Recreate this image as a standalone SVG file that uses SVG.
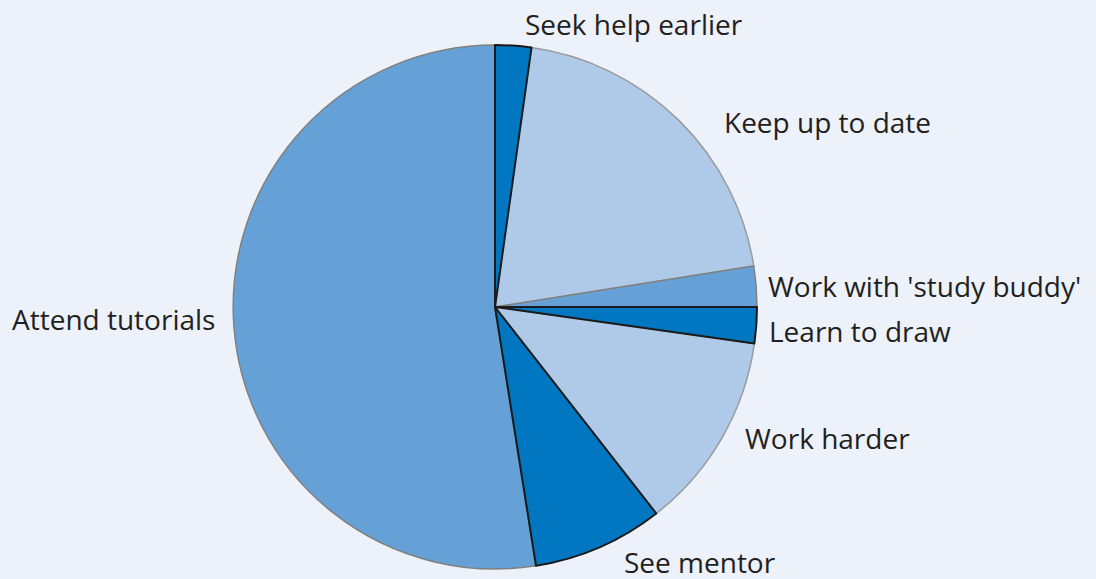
<svg xmlns="http://www.w3.org/2000/svg" width="1096" height="579" viewBox="0 0 1096 579">
<style>
.bg{fill:#edf1fa}
.dark{fill:#0077c0;stroke:#1a1a1a;stroke-width:2;stroke-linejoin:round}
.mid{fill:#65a1d6;stroke:#808080;stroke-width:1.5;stroke-linejoin:round}
.light{fill:#afc9e8;stroke:#9a9a9a;stroke-width:1.5;stroke-linejoin:round}
.lbl{font-family:"Open Sans","Noto Sans",sans-serif;font-size:28px;fill:#231f20}
</style>
<rect class="bg" x="0" y="0" width="1096" height="579"/>
<g id="slices">
<g id="attend"><path class="mid" d="M495,307 L536,565.8 A262,262 0 1 1 495,45 Z"/></g>
<g id="keep"><path class="light" d="M495,307 L531.5,47.6 A262,262 0 0 1 753.8,266 Z"/></g>
<g id="buddy"><path class="mid" d="M495,307 L753.8,266 A262,262 0 0 1 757,307 Z"/></g>
<g id="harder"><path class="light" d="M495,307 L754.4,343.5 A262,262 0 0 1 656.3,513.5 Z"/></g>
<g id="seek"><path class="dark" d="M495,307 L495,45 A262,262 0 0 1 531.5,47.6 Z"/></g>
<g id="draw"><path class="dark" d="M495,307 L757,307 A262,262 0 0 1 754.4,343.5 Z"/></g>
<g id="mentor"><path class="dark" d="M495,307 L656.3,513.5 A262,262 0 0 1 536,565.8 Z"/></g>
</g>
<g id="labels">
<text class="lbl" x="525" y="35">Seek help earlier</text>
<text class="lbl" x="724" y="133">Keep up to date</text>
<text class="lbl" x="768" y="297">Work with 'study buddy'</text>
<text class="lbl" x="769" y="342">Learn to draw</text>
<text class="lbl" x="745" y="449">Work harder</text>
<text class="lbl" x="624" y="573">See mentor</text>
<text class="lbl" x="12" y="330">Attend tutorials</text>
</g>
</svg>
